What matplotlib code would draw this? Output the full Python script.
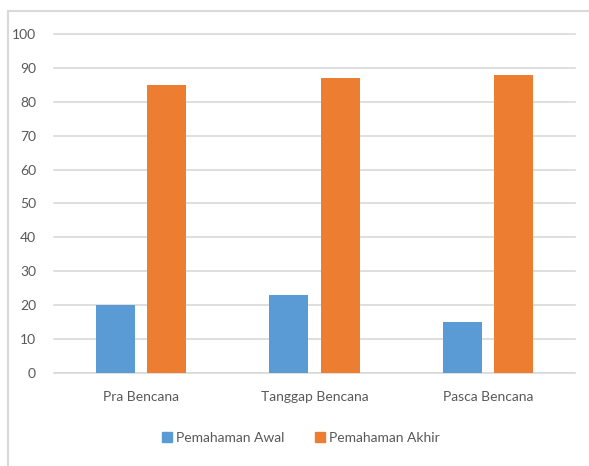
import numpy as np
import matplotlib.pyplot as plt
from matplotlib.lines import Line2D
from matplotlib.patches import Patch

categories = ["Pra Bencana", "Tanggap Bencana", "Pasca Bencana"]
awal = [20, 23, 15]
akhir = [85, 87, 88]

blue = "#5b9bd5"
orange = "#ed7d31"
grey_text = "#595959"

plt.rcParams["font.family"] = ["Lato", "DejaVu Sans"]

W, H = 589, 466
fig = plt.figure(figsize=(W / 100, H / 100), dpi=100)

# plot area in pixels
left, right, top, bottom = 54, 575, 34, 373
ax = fig.add_axes([left / W, 1 - bottom / H, (right - left) / W, (bottom - top) / H])

x = np.arange(len(categories))
width = 0.225
gap = 0.07
ax.bar(x - (width + gap) / 2, awal, width, color=blue, zorder=3)
ax.bar(x + (width + gap) / 2, akhir, width, color=orange, zorder=3)

ax.set_xlim(-0.5, 2.5)
ax.set_ylim(0, 100)
ax.set_yticks(range(0, 101, 10))
ax.yaxis.grid(True, color="#d9d9d9", linewidth=1.2, zorder=0, clip_on=False)
ax.set_xticks(x)
ax.set_xticklabels(categories)
ax.tick_params(axis="both", length=0, labelsize=10, colors=grey_text)
ax.tick_params(axis="x", pad=13)
ax.tick_params(axis="y", pad=13)
for s in ax.spines.values():
    s.set_visible(False)
ax.axhline(0, color="#d9d9d9", linewidth=1.2, zorder=2)

handles = [Patch(color=blue, label="Pemahaman Awal"),
           Patch(color=orange, label="Pemahaman Akhir")]
fig.legend(handles=handles, loc="center", bbox_to_anchor=(301 / W, 1 - 438 / H),
           ncol=2, frameon=False, fontsize=10, labelcolor=grey_text,
           handlelength=0.7, handleheight=0.7, handletextpad=0.3, columnspacing=2.2)

# outer chart border (top and left only visible)
fig.add_artist(Line2D([8 / W, 1], [1 - 10.5 / H, 1 - 10.5 / H], color="#d9d9d9", linewidth=1.5))
fig.add_artist(Line2D([8 / W, 8 / W], [1 - 10.5 / H, 0], color="#d9d9d9", linewidth=1.5))

fig.savefig("out.png", dpi=100)
